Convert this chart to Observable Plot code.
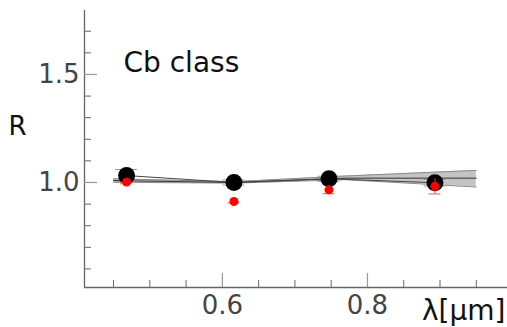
<!DOCTYPE html>
<html>
<head>
<meta charset="utf-8">
<script src="https://cdn.jsdelivr.net/npm/d3@7"></script>
<script src="https://cdn.jsdelivr.net/npm/@observablehq/plot@0.6"></script>
<style>
  html, body { margin: 0; padding: 0; background: #fff; }
  #chart { width: 507px; height: 327px; overflow: hidden; }
</style>
</head>
<body>
<div id="chart"></div>
<script>
// ---- data ----
const lambda   = [0.468, 0.616, 0.747, 0.893];
const rBlack   = [1.032, 1.000, 1.017, 0.999];
const errBlack = [0.028, 0.012, 0.012, 0.015];
const rRed     = [1.002, 0.912, 0.966, 0.983];
const errRed   = [0.008, 0.006, 0.018, 0.036];

const bandLambda = [0.45, 0.616, 0.77, 0.95];
const bandLow    = [1.001, 0.997, 1.013, 0.979];
const bandHigh   = [1.017, 1.004, 1.030, 1.056];
const bandMid    = [1.009, 1.000, 1.020, 1.020];

const xMajorTicks = [0.6, 0.8];
const xMinorTicks = [0.45, 0.5, 0.55, 0.65, 0.7, 0.75, 0.85, 0.9, 0.95];
const yMajorTicks = [1.0, 1.5];
const yMinorTicks = [0.6, 0.7, 0.8, 0.9, 1.1, 1.2, 1.3, 1.4, 1.6, 1.7];
const xDomain = [0.41, 0.993];
const yDomain = [0.514, 1.796];

const titleText = "Cb class";
const yLabel = "R";
const xLabel = "λ[μm]";

// ---- tables ----
const points = lambda.map((l, i) => ({l, rb: rBlack[i], eb: errBlack[i], rr: rRed[i], er: errRed[i]}));
const band = bandLambda.map((l, i) => ({l, lo: bandLow[i], hi: bandHigh[i], mid: bandMid[i]}));

const W = 507, H = 327, mL = 84, mR = 0, mT = 10, mB = 40;
const innerW = W - mL - mR, innerH = H - mT - mB;
const capHalf = 0.015;
const axisColor = "#666";
const textColor = "#111";
const tickLabelColor = "#444";

const chart = Plot.plot({
  width: W, height: H,
  marginLeft: mL, marginRight: mR, marginTop: mT, marginBottom: mB,
  style: {fontFamily: "DejaVu Sans, sans-serif", fontSize: "26px", color: textColor, background: "#fff"},
  x: {domain: xDomain, axis: null},
  y: {domain: yDomain, axis: null},
  marks: [
    // confidence band
    Plot.areaY(band, {x: "l", y1: "lo", y2: "hi", fill: "#c4c4c4"}),
    Plot.lineY(band, {x: "l", y: "lo", stroke: "#8a8a8a", strokeWidth: 1}),
    Plot.lineY(band, {x: "l", y: "hi", stroke: "#8a8a8a", strokeWidth: 1}),
    Plot.lineY(band, {x: "l", y: "mid", stroke: "#333", strokeWidth: 1}),
    // line through black points
    Plot.lineY(points, {x: "l", y: "rb", stroke: "#444", strokeWidth: 1}),
    // black error bars
    Plot.ruleX(points, {x: "l", y1: d => d.rb - d.eb, y2: d => d.rb + d.eb, stroke: "#888", strokeWidth: 1}),
    Plot.ruleY(points, {y: d => d.rb + d.eb, x1: d => d.l - capHalf, x2: d => d.l + capHalf, stroke: "#999", strokeWidth: 1}),
    Plot.ruleY(points, {y: d => d.rb - d.eb, x1: d => d.l - capHalf, x2: d => d.l + capHalf, stroke: "#999", strokeWidth: 1}),
    Plot.dot(points, {x: "l", y: "rb", r: 8.5, fill: "black", stroke: null}),
    // red error bars
    Plot.ruleX(points, {x: "l", y1: d => d.rr - d.er, y2: d => d.rr + d.er, stroke: "#d33", strokeWidth: 1}),
    Plot.ruleY(points, {y: d => d.rr - d.er, x1: d => d.l - capHalf * 0.55, x2: d => d.l + capHalf * 0.55, stroke: "#d55", strokeWidth: 1}),
    Plot.dot(points, {x: "l", y: "rr", r: 4.5, fill: "red", stroke: null}),
    // axis lines
    Plot.ruleX([xDomain[0]], {stroke: axisColor, strokeWidth: 1.3}),
    Plot.ruleY([yDomain[0]], {stroke: axisColor, strokeWidth: 1.3}),
    // inward ticks
    Plot.tickX(xMajorTicks, {x: d => d, insetTop: innerH - 14, stroke: "#999", strokeWidth: 1.2}),
    Plot.tickX(xMinorTicks, {x: d => d, insetTop: innerH - 7, stroke: axisColor, strokeWidth: 1}),
    Plot.tickY(yMajorTicks, {y: d => d, insetRight: innerW - 13, stroke: "#999", strokeWidth: 1.2}),
    Plot.tickY(yMinorTicks, {y: d => d, insetRight: innerW - 7, stroke: axisColor, strokeWidth: 1}),
    // tick labels
    Plot.axisX({ticks: xMajorTicks, tickSize: 0, tickPadding: 8, tickFormat: d3.format(".1f"), label: null, fontSize: 26, fill: tickLabelColor}),
    Plot.axisY({ticks: yMajorTicks, tickSize: 0, tickPadding: 5, tickFormat: d3.format(".1f"), label: null, fontSize: 26, fill: tickLabelColor}),
    // texts
    Plot.text([titleText], {frameAnchor: "top-left", text: d => d, dx: 39, dy: 42, lineAnchor: "top", textAnchor: "start", fontSize: 28, fill: textColor}),
    Plot.text([yLabel], {frameAnchor: "left", text: d => d, dx: -67, dy: -22, textAnchor: "middle", fontSize: 26, fill: textColor}),
    Plot.text([xLabel], {frameAnchor: "bottom-right", text: d => d, dx: -2, dy: 13, lineAnchor: "top", textAnchor: "end", fontSize: 28, fill: textColor})
  ]
});
document.getElementById("chart").append(chart);
</script>
</body>
</html>
